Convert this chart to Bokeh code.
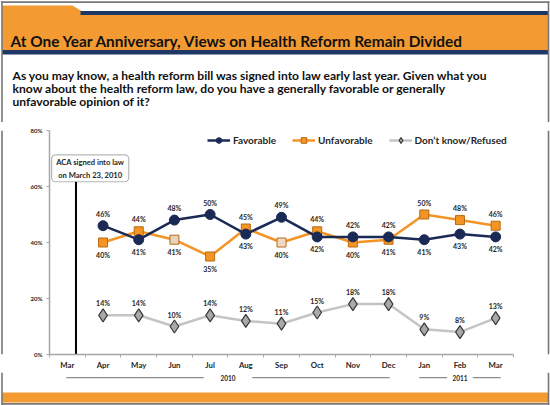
from bokeh.plotting import figure
from bokeh.layouts import column, row
from bokeh.models import (ColumnDataSource, Range1d, FixedTicker, LabelSet, Label,
                          BoxAnnotation, Legend, LegendItem, PrintfTickFormatter)
from bokeh.core.properties import value
from bokeh.embed import file_html
from bokeh.resources import INLINE

# ---------------- data ----------------
months = ["Mar", "Apr", "May", "Jun", "Jul", "Aug", "Sep", "Oct", "Nov", "Dec", "Jan", "Feb", "Mar"]
favorable = [46, 41, 48, 50, 43, 49, 42, 42, 42, 41, 43, 42]
unfavorable = [40, 44, 41, 35, 45, 40, 44, 40, 41, 50, 48, 46]
dont_know = [14, 14, 10, 14, 12, 11, 15, 18, 18, 9, 8, 13]
years = ["2010", "2011"]
year_first = [0, 10]   # index of first month of each year
year_last = [9, 12]    # index of last month of each year
y_ticks = [0, 20, 40, 60, 80]
aca_day = 23
aca_month_days = 31

title_text = "At One Year Anniversary, Views on Health Reform Remain Divided"
subtitle_lines = [
    "As you may know, a health reform bill was signed into law early last year. Given what you",
    "know about the health reform law, do you have a generally favorable or generally",
    "unfavorable opinion of it?",
]

# ---------------- styling ----------------
ORANGE = "#F39B32"
NAVY = "#1F3764"
FAV = "#1B2A55"
UNF = "#F39425"
DK_LINE = "#C4C4C4"
DK_FILL = "#A9A9A9"
AXIS = "#A6A6A6"
BORDER = "#777777"
TXT = "#262626"
FONT = "Lato"

W, H = 550, 405
FRAME_L, FRAME_R, FRAME_T, FRAME_B = 49, 513, 130, 357  # chart frame (px)
HEAD_B = 122                  # header / chart split
FOOT_T = 372                  # chart / footer split
STRIP = 4                     # side strips carrying the slide border
BL, BR = 1.5, 548             # slide border x positions (px)
X0, X1 = -0.5, 12.5           # chart x range in month-index units


def bare(w, h, x_range, y_range):
    f = figure(width=w, height=h, output_backend="svg", toolbar_location=None, title=None,
               x_range=x_range, y_range=y_range, x_axis_type=None, y_axis_type=None,
               min_border=0, min_border_left=0, min_border_right=0,
               min_border_top=0, min_border_bottom=0)
    f.outline_line_color = None
    f.xgrid.grid_line_color = None
    f.ygrid.grid_line_color = None
    f.background_fill_color = "white"
    f.border_fill_color = "white"
    return f


# ---------------- header ----------------
head = bare(W, HEAD_B, Range1d(0, W), Range1d(HEAD_B, 0))
head.patch(x=[BL, 72, 81, BR, BR, BL], y=[5, 5, 10.5, 10.5, 49.5, 49.5],
           fill_color=ORANGE, line_color=None)
head.quad(left=[80], right=[BR], top=[10.5], bottom=[14.5], fill_color=NAVY, line_color=None)
head.quad(left=[BL], right=[BR], top=[49.5], bottom=[54], fill_color=NAVY, line_color=None)
head.quad(left=[BL - 0.8, BL - 0.8, BR - 0.8], right=[BR + 0.8, BL + 0.8, BR + 0.8],
          top=[0.8, 0.8, 0.8], bottom=[2.4, HEAD_B, HEAD_B],
          fill_color=BORDER, line_color=None)
head.add_layout(Label(x=10, y=40, text=title_text, text_font=FONT, text_font_style="bold",
                      text_font_size="15.4px", text_color="#111111",
                      text_baseline="alphabetic"))
for i, line in enumerate(subtitle_lines):
    head.add_layout(Label(x=12, y=75 + 12.8 * i, text=line, text_font=FONT,
                          text_font_style="bold", text_font_size="12.1px",
                          text_color="#111111", text_baseline="alphabetic"))

# ---------------- chart ----------------
CH = FOOT_T - HEAD_B
p = figure(width=W - 2 * STRIP, height=CH, output_backend="svg", toolbar_location=None,
           title=None, x_range=Range1d(X0, X1), y_range=Range1d(0, 80),
           min_border_left=FRAME_L - STRIP, min_border_right=(W - STRIP) - FRAME_R,
           min_border_top=FRAME_T - HEAD_B, min_border_bottom=FOOT_T - FRAME_B,
           background_fill_color="white", border_fill_color="white")
p.outline_line_color = None
p.xgrid.grid_line_color = None
p.ygrid.grid_line_color = None

xi = list(range(len(months)))
p.xaxis.ticker = FixedTicker(ticks=xi, minor_ticks=[i - 0.5 for i in range(len(months) + 1)])
p.xaxis.major_label_overrides = {i: m for i, m in enumerate(months)}
p.xaxis.major_tick_out = 0
p.xaxis.major_tick_in = 0
p.xaxis.minor_tick_out = 3
p.xaxis.minor_tick_in = 0
p.xaxis.minor_tick_line_color = AXIS
p.xaxis.axis_line_color = AXIS
p.xaxis.axis_line_width = 1.5
p.xaxis.major_label_standoff = 2
p.xaxis.axis_label_standoff = 0
p.xaxis.major_label_text_font = FONT
p.xaxis.major_label_text_font_style = "bold"
p.xaxis.major_label_text_font_size = "7.8px"
p.xaxis.major_label_text_color = TXT

p.yaxis.ticker = FixedTicker(ticks=y_ticks)
p.yaxis.formatter = PrintfTickFormatter(format="%d%%")
p.yaxis.major_tick_out = 3
p.yaxis.major_tick_in = 0
p.yaxis.minor_tick_line_color = None
p.yaxis.major_tick_line_color = AXIS
p.yaxis.axis_line_color = AXIS
p.yaxis.axis_line_width = 1.5
p.yaxis.major_label_standoff = 4
p.yaxis.major_label_text_font = FONT
p.yaxis.major_label_text_font_style = "bold"
p.yaxis.major_label_text_font_size = "6px"
p.yaxis.major_label_text_color = TXT

# ACA annotation
aca_x = (aca_day / aca_month_days) - 0.5
p.segment(x0=[aca_x], y0=[0], x1=[aca_x], y1=[61.7], line_color="black", line_width=2)
p.add_layout(BoxAnnotation(left=-0.44, right=1.72, top=71.3, bottom=61.7,
                           fill_color="white", fill_alpha=1, line_color="#111111",
                           line_width=1.2, border_radius=4))
p.add_layout(Label(x=(-0.44 + 1.72) / 2, y=(71.3 + 61.7) / 2,
                   text="ACA signed into law\non March 23, 2010",
                   text_align="center", text_baseline="middle", text_font=FONT,
                   text_font_style="bold", text_font_size="7.6px", text_color=TXT,
                   text_line_height=1.25))

# series
xs = list(range(1, len(months)))
unf_fill = [UNF] * len(xs)
unf_fill[2] = "#E6D3BE"
unf_fill[5] = "#F0D9C2"
src = ColumnDataSource(dict(
    x=xs, fav=favorable, unf=unfavorable, dk=dont_know, unf_fill=unf_fill,
    fav_lbl=[f"{v}%" for v in favorable],
    unf_lbl=[f"{v}%" for v in unfavorable],
    dk_lbl=[f"{v}%" for v in dont_know],
    fav_off=[12 if f > u else -12 for f, u in zip(favorable, unfavorable)],
    unf_off=[12 if u > f else -12 for f, u in zip(favorable, unfavorable)],
))

dk_line = p.line("x", "dk", source=src, line_color=DK_LINE, line_width=2.5)
dk_pts = p.scatter("x", "dk", source=src, marker="diamond", size=13,
                   fill_color=DK_FILL, line_color="#3A3A3A", line_width=1.2)
unf_line = p.line("x", "unf", source=src, line_color=UNF, line_width=2.5)
unf_pts = p.scatter("x", "unf", source=src, marker="square", size=9,
                    fill_color="unf_fill", line_color="#B86A10", line_width=1)
fav_line = p.line("x", "fav", source=src, line_color=FAV, line_width=2.5)
fav_pts = p.scatter("x", "fav", source=src, marker="circle", size=10,
                    fill_color=FAV, line_color=FAV)

lbl_kw = dict(source=src, text_align="center", text_baseline="middle",
              text_font=value(FONT), text_font_style="bold", text_font_size="7px",
              text_color=TXT)
p.add_layout(LabelSet(x="x", y="fav", text="fav_lbl", y_offset="fav_off", **lbl_kw))
p.add_layout(LabelSet(x="x", y="unf", text="unf_lbl", y_offset="unf_off", **lbl_kw))
p.add_layout(LabelSet(x="x", y="dk", text="dk_lbl", y_offset=12, **lbl_kw))

legend = Legend(items=[
    LegendItem(label="Favorable", renderers=[fav_line, fav_pts]),
    LegendItem(label="Unfavorable", renderers=[unf_line, unf_pts]),
    LegendItem(label="Don\u2019t know/Refused", renderers=[dk_line, dk_pts]),
], location=(207 - FRAME_L, FRAME_B - 150), orientation="horizontal",
    glyph_width=23, glyph_height=14, label_height=14, label_standoff=3, spacing=16,
    padding=0, margin=0, border_line_alpha=0, background_fill_alpha=0,
    label_text_font=FONT, label_text_font_style="bold", label_text_font_size="10px",
    label_text_color=TXT)
p.add_layout(legend)


def strip(x_line):
    s = bare(STRIP, CH, Range1d(0, STRIP), Range1d(0, 1))
    s.quad(left=[x_line - 0.8], right=[x_line + 0.8], top=[1], bottom=[0],
           fill_color=BORDER, line_color=None)
    return s


middle = row(strip(BL), p, strip(BR - (W - STRIP)), spacing=0)

# ---------------- footer (year row + bottom band) ----------------
ppu = (FRAME_R - FRAME_L) / (X1 - X0)  # px per month index


def px2idx(px):
    return X0 + (px - FRAME_L) / ppu


foot = bare(W, H - FOOT_T, Range1d(px2idx(0), px2idx(W)), Range1d(H, FOOT_T))
YEAR_Y = 377.2
for yr, a, b in zip(years, year_first, year_last):
    mid = (a + b) / 2
    short = (b - a) < 5
    gap = 0.36 if short else 0.68
    ext = 0.14 if short else 0.03
    foot.text(x=[mid], y=[YEAR_Y], text=[yr], text_align="center", text_baseline="middle",
              text_font=value(FONT), text_font_style="bold", text_font_size="6.5px",
              text_color=TXT)
    foot.segment(x0=[a - ext, mid + gap], y0=[YEAR_Y, YEAR_Y],
                 x1=[mid - gap, b + ext], y1=[YEAR_Y, YEAR_Y],
                 line_color="#8C8C8C", line_width=1.2)
foot.quad(left=[px2idx(BL)], right=[px2idx(BR)], top=[392], bottom=[402],
          fill_color=ORANGE, line_color=None)
foot.quad(left=[px2idx(BL - 0.8), px2idx(BR - 0.8), px2idx(BL - 0.8)],
          right=[px2idx(BL + 0.8), px2idx(BR + 0.8), px2idx(BR + 0.8)],
          top=[FOOT_T, FOOT_T, 402.6], bottom=[404.2, 404.2, 404.2],
          fill_color=BORDER, line_color=None)

layout = column(head, middle, foot, spacing=0)
open("out.html", "w").write(file_html(layout, INLINE))
